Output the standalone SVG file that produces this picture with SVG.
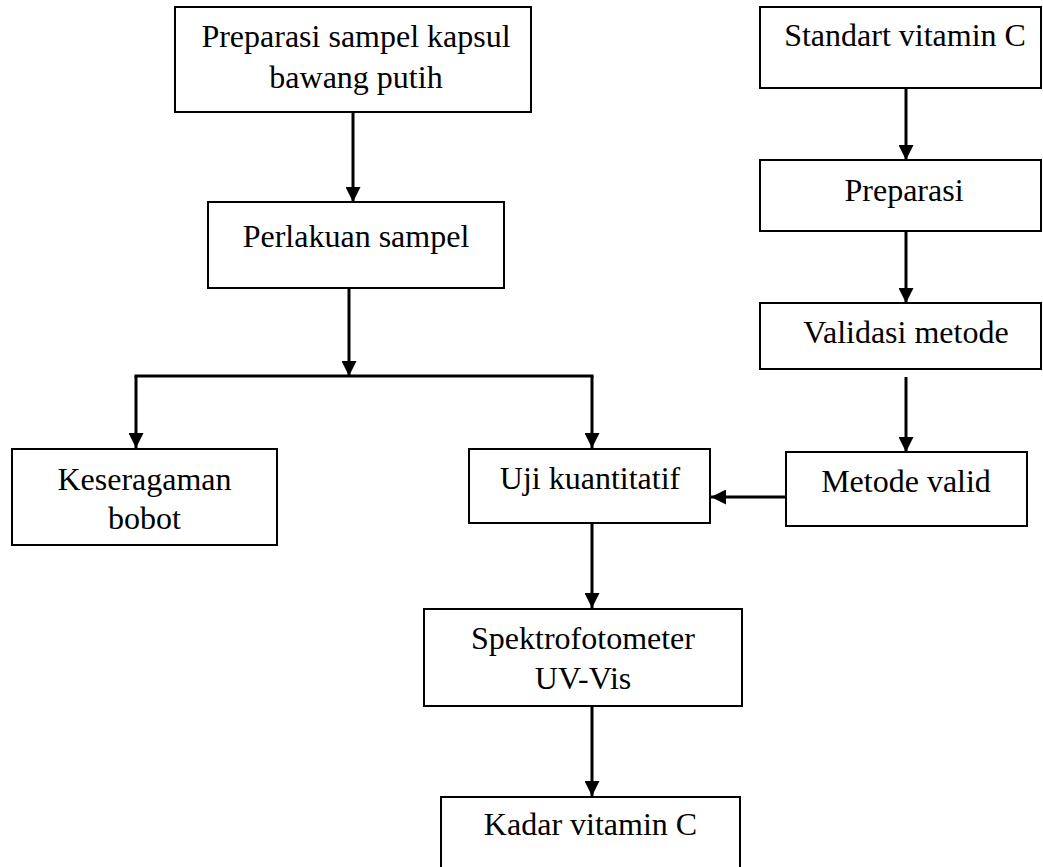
<svg xmlns="http://www.w3.org/2000/svg" width="1043" height="867" viewBox="0 0 1043 867">
<style>
.box{fill:#fff;stroke:#000;stroke-width:2}
.t{font-family:"Liberation Serif","Times New Roman",serif;font-size:32px;fill:#000;text-anchor:middle}
.c{fill:none;stroke:#000;stroke-width:3}
</style>
<defs>
<marker id="ah" markerUnits="userSpaceOnUse" markerWidth="15" markerHeight="15" viewBox="0 0 15 15" refX="15" refY="7.5" orient="auto">
<path d="M0,0 L15,7.5 L0,15 Z" fill="#000"/>
</marker>
</defs>
<rect width="1043" height="867" fill="#fff"/>
<g id="connectors">
<line class="c" x1="353" y1="112" x2="353" y2="202" marker-end="url(#ah)"/>
<line class="c" x1="349" y1="288" x2="349" y2="376" marker-end="url(#ah)"/>
<line class="c" x1="134.5" y1="376" x2="593.5" y2="376"/>
<line class="c" x1="136" y1="376" x2="136" y2="448" marker-end="url(#ah)"/>
<line class="c" x1="592" y1="376" x2="592" y2="448" marker-end="url(#ah)"/>
<line class="c" x1="592" y1="523" x2="592" y2="608" marker-end="url(#ah)"/>
<line class="c" x1="592" y1="706" x2="592" y2="796" marker-end="url(#ah)"/>
<line class="c" x1="906" y1="88" x2="906" y2="160" marker-end="url(#ah)"/>
<line class="c" x1="906" y1="231" x2="906" y2="303" marker-end="url(#ah)"/>
<line class="c" x1="906" y1="377" x2="906" y2="452" marker-end="url(#ah)"/>
<line class="c" x1="786" y1="497" x2="711" y2="497" marker-end="url(#ah)"/>
</g>
<g id="n1"><rect class="box" x="175" y="7" width="356" height="105"/><text class="t" x="356" y="47">Preparasi sampel kapsul</text><text class="t" x="356" y="88">bawang putih</text></g>
<g id="n2"><rect class="box" x="208" y="202" width="296" height="86"/><text class="t" x="356" y="247">Perlakuan sampel</text></g>
<g id="n3"><rect class="box" x="12" y="449" width="265" height="96"/><text class="t" x="144.5" y="490">Keseragaman</text><text class="t" x="144.5" y="529">bobot</text></g>
<g id="n4"><rect class="box" x="469" y="449" width="241" height="74"/><text class="t" x="590" y="489">Uji kuantitatif</text></g>
<g id="n5"><rect class="box" x="424" y="609" width="318" height="97"/><text class="t" x="583" y="649">Spektrofotometer</text><text class="t" x="583" y="689">UV-Vis</text></g>
<g id="n6"><rect class="box" x="441" y="797" width="299" height="80"/><text class="t" x="590.5" y="835">Kadar vitamin C</text></g>
<g id="n7"><rect class="box" x="760" y="7" width="281" height="81"/><text class="t" x="905" y="46">Standart vitamin C</text></g>
<g id="n8"><rect class="box" x="760" y="160" width="281" height="71"/><text class="t" x="904" y="201">Preparasi</text></g>
<g id="n9"><rect class="box" x="760" y="303" width="281" height="66"/><text class="t" x="906" y="343">Validasi metode</text></g>
<g id="n10"><rect class="box" x="786" y="452" width="241" height="74"/><text class="t" x="906" y="492">Metode valid</text></g>
</svg>
